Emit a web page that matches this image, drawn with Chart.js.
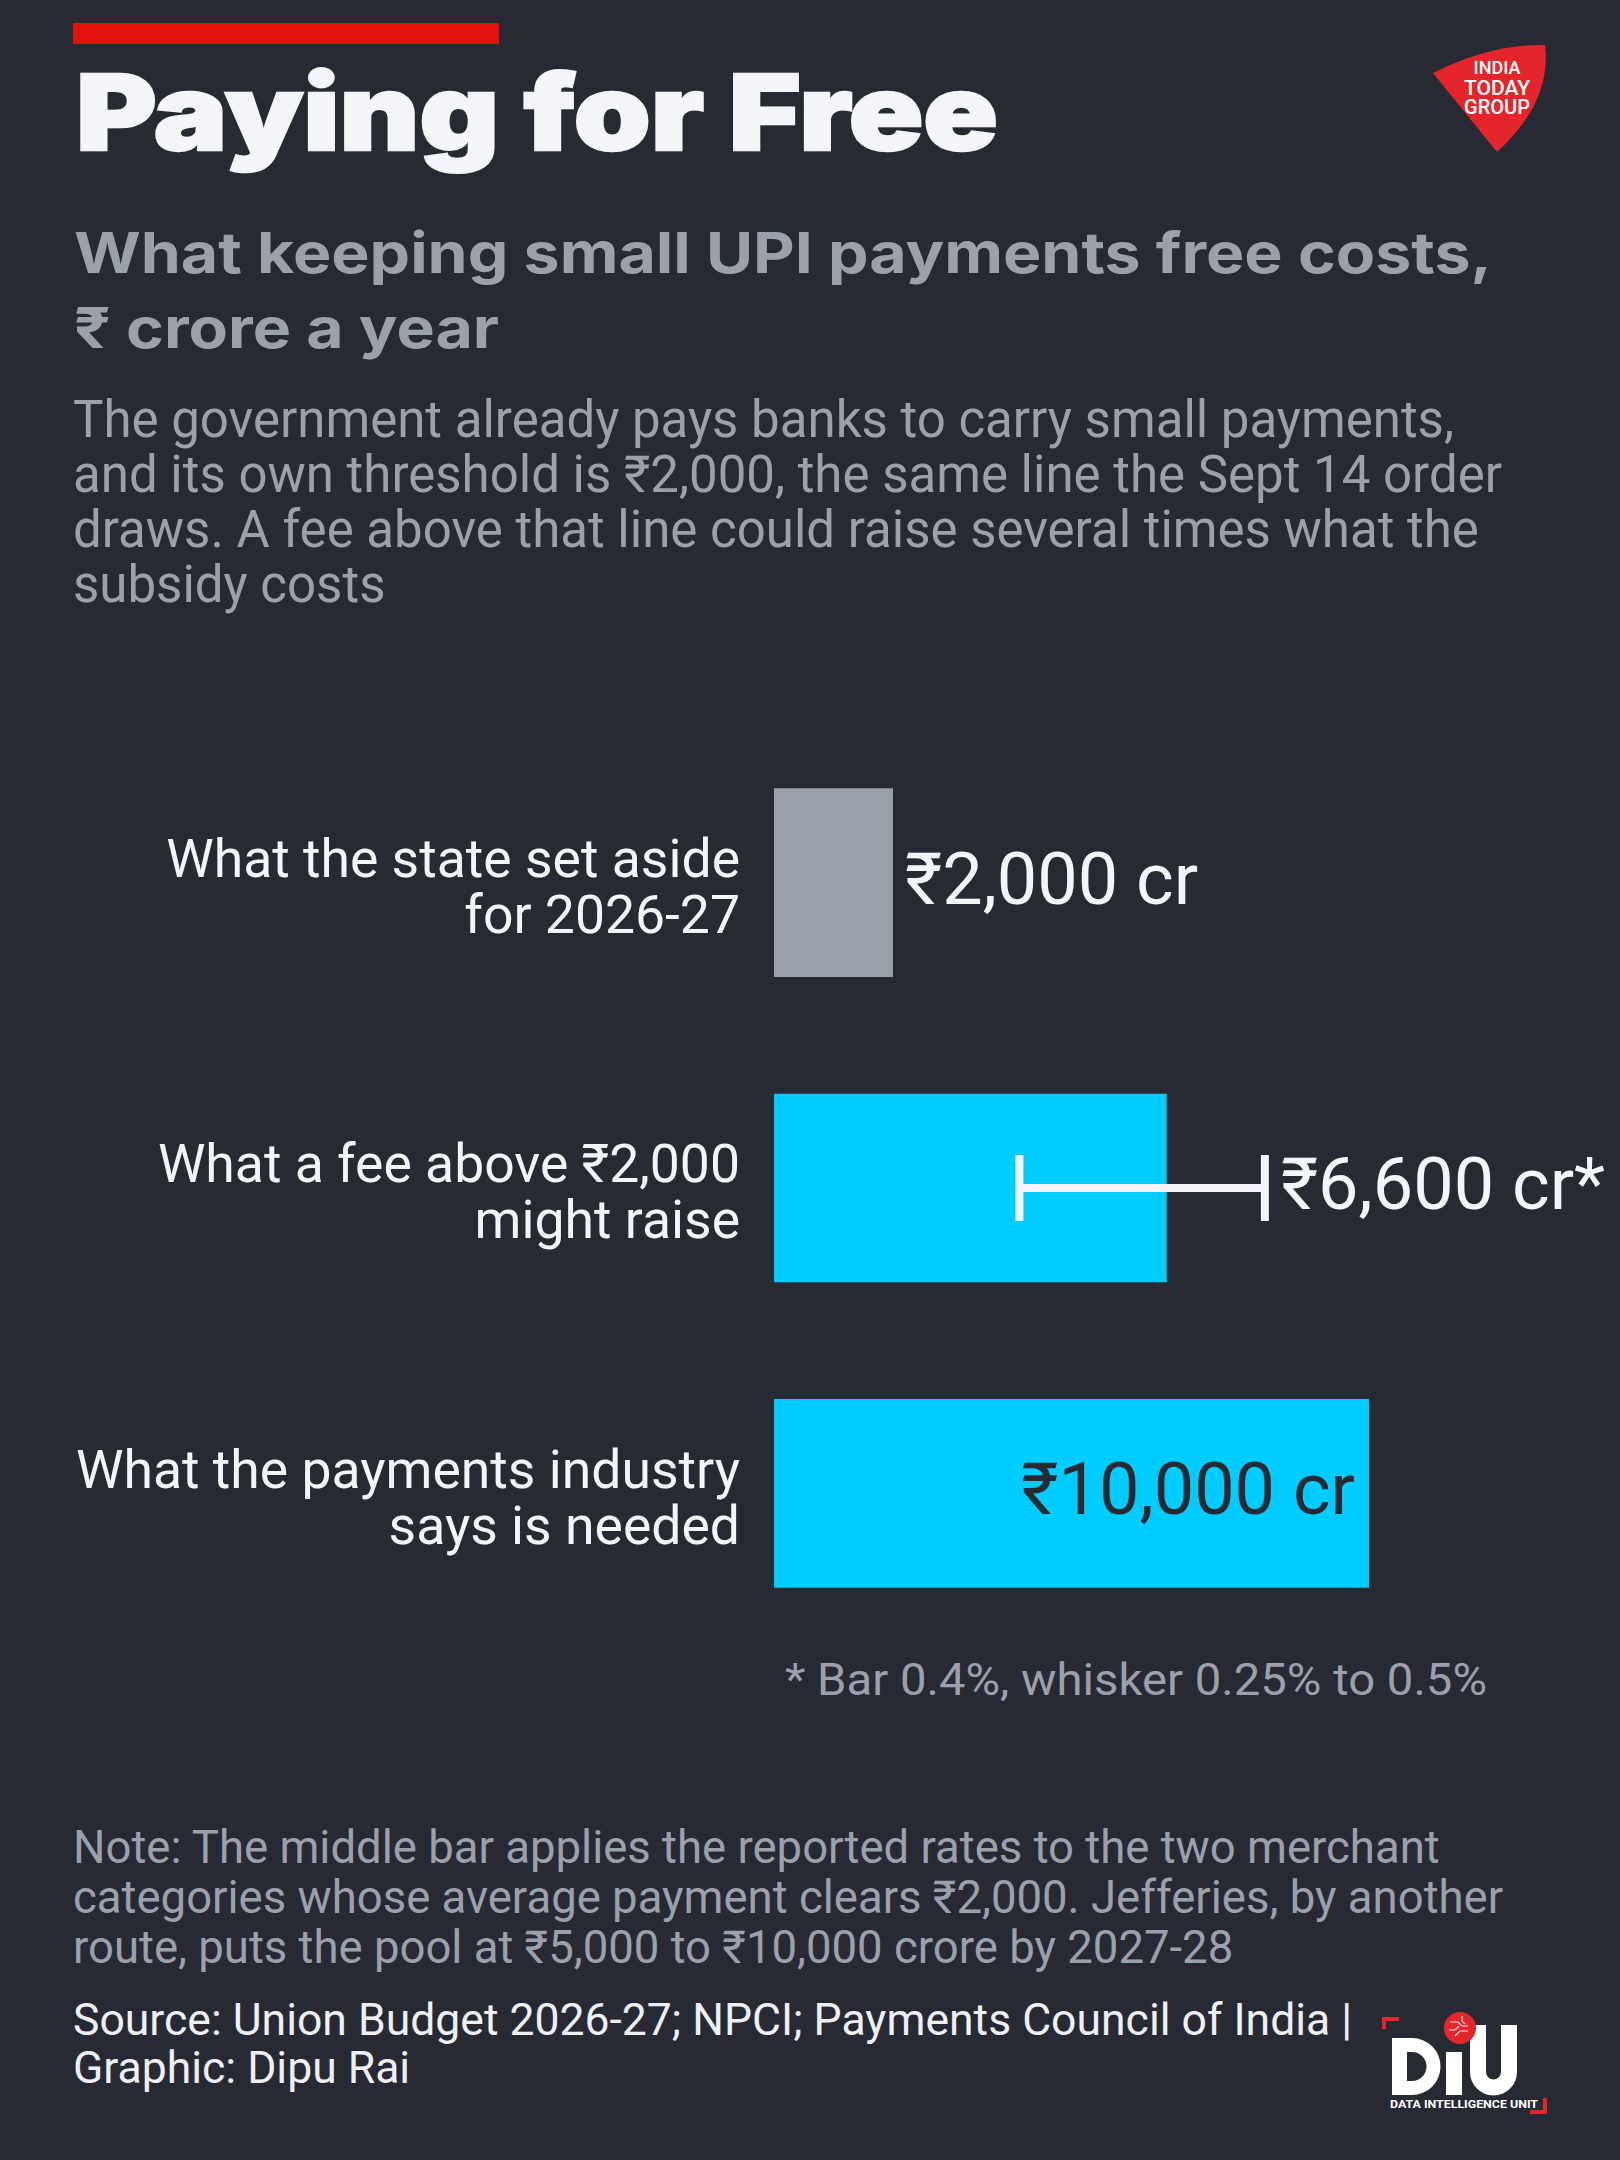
<!DOCTYPE html>
<html lang="en">
<head>
<meta charset="utf-8">
<title>Paying for Free</title>
<script src="https://cdn.jsdelivr.net/npm/chart.js@4.4.1/dist/chart.umd.min.js"></script>
<style>
  html, body { margin: 0; padding: 0; }
  body {
    width: 1620px; height: 2160px; position: relative; overflow: hidden;
    background: #272a33;
  }
  #text { position: absolute; left: 0; top: 0; }
  #chartWrap { position: absolute; left: 0; top: 730px; width: 1620px; height: 916px; }
  .title { font-family: Inter, sans-serif; font-weight: 900; font-size: 105px; fill: #f3f5f9; stroke: #f3f5f9; stroke-width: 2.5px; }
  .sub { font-family: Inter, sans-serif; font-weight: 700; font-size: 56px; fill: #9ba1ab; }
  .body { font-family: Roboto, "Noto Sans", sans-serif; fill: #9ba1ab; }
</style>
</head>
<body>

<svg id="text" width="1620" height="2160">
  <rect x="73" y="23" width="426" height="21" fill="#e3120b"/>
  <text class="title" x="76" y="150" textLength="922" lengthAdjust="spacingAndGlyphs">Paying for Free</text>
  <text class="sub" x="74" y="273" textLength="1418" lengthAdjust="spacingAndGlyphs">What keeping small UPI payments free costs,</text>
  <text class="sub" x="74" y="348" textLength="425" lengthAdjust="spacingAndGlyphs">₹ crore a year</text>

  <g class="body" font-size="51">
    <text x="73" y="437">The government already pays banks to carry small payments,</text>
    <text x="73" y="492">and its own threshold is ₹2,000, the same line the Sept 14 order</text>
    <text x="73" y="547">draws. A fee above that line could raise several times what the</text>
    <text x="73" y="602">subsidy costs</text>
  </g>

  <text class="body" font-size="44" x="785" y="1695" textLength="702" lengthAdjust="spacingAndGlyphs">* Bar 0.4%, whisker 0.25% to 0.5%</text>

  <g class="body" font-size="45.5">
    <text x="73" y="1863">Note: The middle bar applies the reported rates to the two merchant</text>
    <text x="73" y="1913">categories whose average payment clears ₹2,000. Jefferies, by another</text>
    <text x="73" y="1963">route, puts the pool at ₹5,000 to ₹10,000 crore by 2027-28</text>
  </g>
  <g class="body" font-size="44.5" style="fill:#eef0f4">
    <text x="73" y="2035">Source: Union Budget 2026-27; NPCI; Payments Council of India |</text>
    <text x="73" y="2083">Graphic: Dipu Rai</text>
  </g>

  <!-- India Today Group logo -->
  <path d="M1433 73 Q1491 44 1545 45 Q1552 102 1497 152 Z" fill="#e4262c"/>
  <g font-family="Roboto, sans-serif" font-weight="500" fill="#ffffff" text-anchor="middle">
    <text x="1497" y="74" font-size="18">INDIA</text>
    <text x="1497" y="95" font-size="21">TODAY</text>
    <text x="1497" y="114" font-size="20">GROUP</text>
  </g>

  <!-- DIU logo -->
  <g fill="#e4262c">
    <rect x="1382" y="2017" width="17" height="4"/>
    <rect x="1382" y="2017" width="4" height="12"/>
    <rect x="1543" y="2098" width="4" height="16"/>
    <rect x="1530" y="2110" width="17" height="4"/>
  </g>
  <path fill="#ffffff" fill-rule="evenodd"
        d="M1392 2038 H1412 A28.5 28.5 0 0 1 1412 2095 H1392 Z
           M1407 2052 H1412 A14.5 14.5 0 0 1 1412 2081 H1407 Z"/>
  <rect x="1446" y="2052" width="16" height="43" fill="#ffffff"/>
  <path fill="#ffffff" d="M1470 2025 H1486 V2072 A7.5 7.5 0 0 0 1501 2072 V2025 H1517 V2072 A23.5 23.5 0 0 1 1470 2072 Z"/>
  <circle cx="1460" cy="2028" r="16" fill="#e4262c"/>
  <path d="M1450 2022 h8 l4 4 h6 M1449 2030 h6 l4 -4 M1455 2036 l5 -5 h8 M1462 2016 v5 l3 3" stroke="#ffffff" stroke-width="1.2" fill="none" opacity="0.85"/>
  <text x="1390" y="2108" font-family="Roboto, sans-serif" font-weight="700" font-size="11.5" fill="#ffffff"
        textLength="148" lengthAdjust="spacingAndGlyphs">DATA INTELLIGENCE UNIT</text>
</svg>

<div id="chartWrap"><canvas id="chart" width="1620" height="916"></canvas></div>

<script>
// ==========================
// Data
// ==========================

const categories = [
    ["What the state set aside", "for 2026-27"],
    ["What a fee above ₹2,000", "might raise"],
    ["What the payments industry", "says is needed"]
];

const values = [2000, 6600, 10000];

// range behind the middle bar (0.25% to 0.5%)
const whiskerLow = [null, 4125, null];
const whiskerHigh = [null, 8250, null];

const valueLabels = ["₹2,000 cr", "₹6,600 cr*", "₹10,000 cr"];

const barColors = ["#9aa0aa", "#00ccff", "#00ccff"];


// ==========================
// Whiskers + value labels
// ==========================

const barExtras = {

    id: "barExtras",

    afterDatasetsDraw(chart) {

        const ctx = chart.ctx;
        const x = chart.scales.x;
        const bars = chart.getDatasetMeta(0).data;
        const biggest = Math.max(...values);

        ctx.save();
        ctx.font = "72px Roboto, 'Noto Sans', sans-serif";
        ctx.textBaseline = "alphabetic";

        bars.forEach((bar, i) => {

            let end = bar.x;

            if (whiskerLow[i] !== null) {

                const x0 = x.getPixelForValue(whiskerLow[i]);
                const x1 = x.getPixelForValue(whiskerHigh[i]);

                ctx.strokeStyle = "#f3f5f9";
                ctx.lineWidth = 8;
                ctx.beginPath();
                ctx.moveTo(x0, bar.y);
                ctx.lineTo(x1, bar.y);
                ctx.moveTo(x0, bar.y - 33);
                ctx.lineTo(x0, bar.y + 33);
                ctx.moveTo(x1, bar.y - 33);
                ctx.lineTo(x1, bar.y + 33);
                ctx.stroke();

                end = x1 + 4;
            }

            if (values[i] === biggest) {
                // biggest bar carries its label inside
                ctx.fillStyle = "#272a33";
                ctx.textAlign = "right";
                ctx.fillText(valueLabels[i], bar.x - 14, bar.y + 21);
            } else {
                ctx.fillStyle = "#f3f5f9";
                ctx.textAlign = "left";
                ctx.fillText(valueLabels[i], end + 12, bar.y + 21);
            }
        });

        ctx.restore();
    }
};


// ==========================
// Chart
// ==========================

new Chart(document.getElementById("chart"), {

    type: "bar",

    data: {
        labels: categories,
        datasets: [{
            data: values,
            backgroundColor: barColors,
            borderWidth: 0,
            categoryPercentage: 1,
            barPercentage: 0.618
        }]
    },

    options: {
        indexAxis: "y",
        responsive: false,
        animation: false,
        layout: { padding: { right: 13 } },
        plugins: {
            legend: { display: false },
            tooltip: { enabled: false }
        },
        scales: {
            x: { display: false, min: 0, max: 14000 },
            y: {
                grid: { display: false, drawTicks: false },
                border: { display: false },
                ticks: {
                    color: "#f3f5f9",
                    padding: 34,
                    labelOffset: 9,
                    font: { family: "Roboto", size: 53.5, lineHeight: 1.05 }
                },
                afterFit(scale) {
                    scale.width = 774;
                    // labels may hang past the plot, keep the bands on the full canvas
                    scale.paddingTop = 0;
                    scale.paddingBottom = 0;
                }
            }
        }
    },

    plugins: [barExtras]
});
</script>
</body>
</html>
